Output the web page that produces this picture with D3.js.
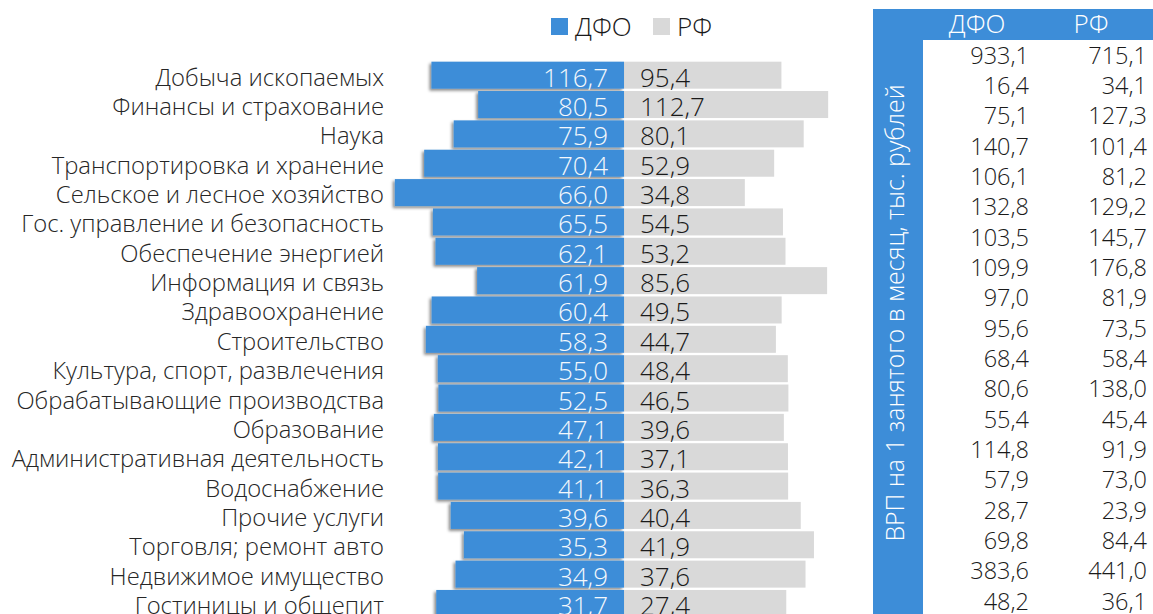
<!DOCTYPE html>
<html>
<head>
<meta charset="utf-8">
<script src="https://cdn.jsdelivr.net/npm/d3@7"></script>
<style>
  body { margin: 0; background: #fff; }
  svg { display: block; font-family: 'Open Sans', sans-serif; font-weight: 300; }
</style>
</head>
<body>
<svg></svg>
<script>
let categories = ['Добыча ископаемых', 'Финансы и страхование', 'Наука', 'Транспортировка и хранение',
  'Сельское и лесное хозяйство', 'Гос. управление и безопасность', 'Обеспечение энергией',
  'Информация и связь', 'Здравоохранение', 'Строительство', 'Культура, спорт, развлечения',
  'Обрабатывающие производства', 'Образование', 'Административная деятельность', 'Водоснабжение',
  'Прочие услуги', 'Торговля; ремонт авто', 'Недвижимое имущество', 'Гостиницы и общепит'];

// зарплата, тыс. руб.
let dfoValues = [116.7, 80.5, 75.9, 70.4, 66.0, 65.5, 62.1, 61.9, 60.4, 58.3, 55.0, 52.5, 47.1, 42.1, 41.1, 39.6, 35.3, 34.9, 31.7];
let rfValues = [95.4, 112.7, 80.1, 52.9, 34.8, 54.5, 53.2, 85.6, 49.5, 44.7, 48.4, 46.5, 39.6, 37.1, 36.3, 40.4, 41.9, 37.6, 27.4];

// ВРП на 1 занятого
let tableDfo = [933.1, 16.4, 75.1, 140.7, 106.1, 132.8, 103.5, 109.9, 97.0, 95.6, 68.4, 80.6, 55.4, 114.8, 57.9, 28.7, 69.8, 383.6, 48.2];
let tableRf = [715.1, 34.1, 127.3, 101.4, 81.2, 129.2, 145.7, 176.8, 81.9, 73.5, 58.4, 138.0, 45.4, 91.9, 73.0, 23.9, 84.4, 441.0, 36.1];

let seriesNames = ['ДФО', 'РФ'];
let tableTitle = 'ВРП на 1 занятого в месяц, тыс. рублей';

let width = 1153;
let height = 614;
let blue = '#3d8dd8';
let grey = '#d9d9d9';
let split = 624;
let fullWidth = 350;

let fmt = (v) => d3.format('.1f')(v).replace('.', ',');

let rows = categories.map((c, i) => ({
  name: c,
  dfo: dfoValues[i],
  rf: rfValues[i],
  share: dfoValues[i] / (dfoValues[i] + rfValues[i])
}));

let svg = d3.select('svg').attr('width', width).attr('height', height);

let defs = svg.append('defs');
defs.append('filter')
    .attr('id', 'shadow')
    .attr('x', '-10%').attr('y', '-30%').attr('width', '120%').attr('height', '160%')
    .append('feDropShadow')
    .attr('dx', -2).attr('dy', 2)
    .attr('stdDeviation', 1.8)
    .attr('flood-color', '#000')
    .attr('flood-opacity', 0.45);

let yScale = d3.scaleBand()
               .domain(categories)
               .range([60.5, 60.5 + 19 * 29.35])
               .paddingInner(0.08)
               .paddingOuter(0.04);

// доля ДФО влево, доля РФ вправо от линии раздела
let leftScale = d3.scaleLinear().domain([0, 1]).range([split, split - fullWidth]);
let rightScale = d3.scaleLinear().domain([0, 1]).range([split, split + fullWidth]);

let drawBars = () => {
  svg.selectAll('.bar-rf')
     .data(rows)
     .enter()
     .append('rect')
     .attr('class', 'bar-rf')
     .attr('x', split)
     .attr('y', (d) => yScale(d.name))
     .attr('width', (d) => rightScale(1 - d.share) - split)
     .attr('height', yScale.bandwidth())
     .attr('fill', grey);

  svg.selectAll('.bar-dfo')
     .data(rows)
     .enter()
     .append('rect')
     .attr('class', 'bar-dfo')
     .attr('x', (d) => leftScale(d.share))
     .attr('y', (d) => yScale(d.name))
     .attr('width', (d) => split - leftScale(d.share))
     .attr('height', yScale.bandwidth())
     .attr('fill', blue)
     .attr('filter', 'url(#shadow)');

  svg.selectAll('.lbl-dfo')
     .data(rows)
     .enter()
     .append('text')
     .attr('x', split - 16)
     .attr('y', (d) => yScale(d.name) + 25)
     .attr('text-anchor', 'end')
     .attr('font-size', 26)
     .attr('fill', '#f4f8fc')
     .text((d) => fmt(d.dfo));

  svg.selectAll('.lbl-rf')
     .data(rows)
     .enter()
     .append('text')
     .attr('x', split + 16)
     .attr('y', (d) => yScale(d.name) + 25)
     .attr('font-size', 26)
     .attr('fill', '#1a1a1a')
     .text((d) => fmt(d.rf));
}

let drawAxis = () => {
  let yAxis = d3.axisLeft(yScale).tickSize(0).tickPadding(0);
  let g = svg.append('g')
             .attr('transform', 'translate(384,0)')
             .call(yAxis);
  g.select('.domain').remove();
  g.selectAll('text')
   .attr('font-size', 23.8)
   .attr('font-family', "'Open Sans', sans-serif")
   .attr('fill', '#262626')
   .attr('dy', null)
   .attr('y', 10.5);
}

let drawLegend = () => {
  let legendX = [551, 653];
  let lg = svg.append('g');
  seriesNames.forEach((s, i) => {
    lg.append('rect')
      .attr('x', legendX[i]).attr('y', 18)
      .attr('width', 17).attr('height', 17)
      .attr('fill', i == 0 ? blue : grey);
    lg.append('text')
      .attr('x', legendX[i] + 24).attr('y', 36)
      .attr('font-size', 26)
      .attr('fill', '#1a1a1a')
      .text(s);
  });
}

let drawTable = () => {
  // синяя рамка: шапка и боковая полоса
  svg.append('rect').attr('x', 873).attr('y', 9).attr('width', width - 873).attr('height', 31).attr('fill', blue);
  svg.append('rect').attr('x', 873).attr('y', 9).attr('width', 50).attr('height', height - 9).attr('fill', blue);

  let colX = [977, 1091];
  seriesNames.forEach((s, i) => {
    svg.append('text')
       .attr('x', colX[i]).attr('y', 33)
       .attr('text-anchor', 'middle')
       .attr('font-size', 26)
       .attr('fill', '#fff')
       .text(s);
  });

  svg.append('text')
     .attr('transform', 'translate(904,313) rotate(-90)')
     .attr('text-anchor', 'middle')
     .attr('font-size', 24.8)
     .attr('fill', '#fff')
     .text(tableTitle);

  let rowScale = d3.scalePoint()
                   .domain(d3.range(tableDfo.length))
                   .range([55, 601]);

  let cols = [tableDfo, tableRf];
  let colRight = [1029, 1147];
  cols.forEach((col, c) => {
    svg.selectAll('.tcol' + c)
       .data(col)
       .enter()
       .append('text')
       .attr('class', 'tcol' + c)
       .attr('x', colRight[c])
       .attr('y', (d, i) => rowScale(i) + 8.5)
       .attr('text-anchor', 'end')
       .attr('font-size', 23.5)
       .attr('fill', '#1a1a1a')
       .text((d) => fmt(d));
  });
}

drawBars();
drawAxis();
drawLegend();
drawTable();
</script>
</body>
</html>
